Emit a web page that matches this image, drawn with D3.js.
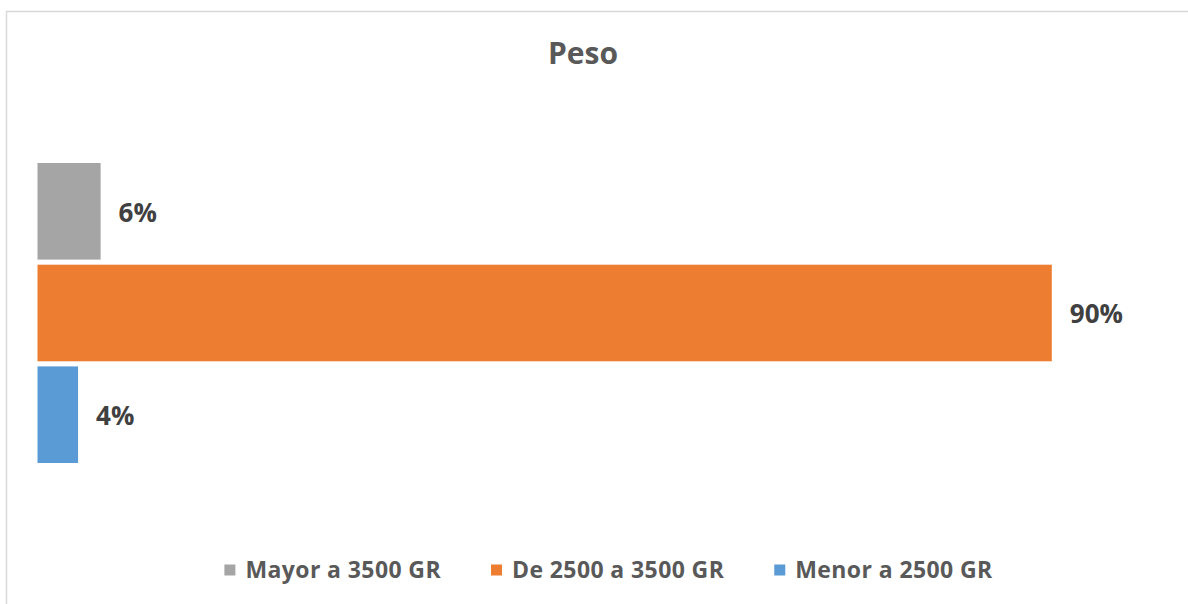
<!DOCTYPE html>
<html>
<meta charset="utf-8">
<script src="https://cdn.jsdelivr.net/npm/d3@7/dist/d3.min.js"></script>
<style>
body{
  margin: 0;
  background: white;
  overflow: hidden;
}
.chartFrame{
  fill: white;
  stroke: #d9d9d9;
  stroke-width: 1.5;
}
.title{
  font: bold 30px "Open Sans", sans-serif;
  fill: #595959;
}
.valLabel{
  font: bold 26px "Open Sans", sans-serif;
  fill: #404040;
}
.legendText{
  font: bold 23px "Open Sans", sans-serif;
  letter-spacing: 0.4px;
  fill: #595959;
}
</style>
<body>
  <div id="chartDiv"></div>

<script>
// one category, three series (share of births by weight)
var chartTitle = "Peso";
var seriesNames = ["Mayor a 3500 GR", "De 2500 a 3500 GR", "Menor a 2500 GR"];
var seriesValues = [0.056, 0.90, 0.036];
var seriesColors = ["#a5a5a5", "#ed7d31", "#5b9bd5"];

var width = 1188,
    height = 604;

var svg = d3.select("#chartDiv").append("svg")
  .attr("width", width)
  .attr("height", height);

// chart area outline (right/bottom edges fall outside the picture)
svg.append("rect").attr("class", "chartFrame")
  .attr("x", 6.5).attr("y", 11.5)
  .attr("width", 1200).attr("height", 620);

svg.append("text").attr("class", "title")
  .attr("x", 583).attr("y", 64)
  .attr("text-anchor", "middle")
  .text(chartTitle);

var x = d3.scaleLinear().domain([0, 1]).range([37.5, 1164.5]);
var y = d3.scaleBand().domain(seriesNames).range([163, 463]).paddingInner(0.05);

var fmt = d3.format(".0%");

var bars = svg.append("g").selectAll(".bar")
  .data(seriesNames)
  .enter().append("g").attr("class", "bar");

bars.append("rect")
  .attr("x", x(0))
  .attr("y", function(d){ return y(d); })
  .attr("width", function(d, i){ return x(seriesValues[i]) - x(0); })
  .attr("height", y.bandwidth())
  .style("fill", function(d, i){ return seriesColors[i]; });

bars.append("text").attr("class", "valLabel")
  .attr("x", function(d, i){ return x(seriesValues[i]) + 18; })
  .attr("y", function(d){ return y(d) + y.bandwidth() / 2 + 1; })
  .attr("dy", "0.36em")
  .text(function(d, i){ return fmt(seriesValues[i]); });

// legend along the bottom, centred
var legend = svg.append("g").attr("class", "legend");
var markSize = 11, markGap = 10, itemGap = 50;
var items = legend.selectAll(".legendItem")
  .data(seriesNames)
  .enter().append("g").attr("class", "legendItem");

items.append("rect")
  .attr("y", -markSize / 2)
  .attr("width", markSize).attr("height", markSize)
  .style("fill", function(d, i){ return seriesColors[i]; });

items.append("text").attr("class", "legendText")
  .attr("x", markSize + markGap)
  .attr("dy", "0.36em")
  .text(function(d){ return d; });

var offsets = [], pos = 0;
items.each(function(){
  offsets.push(pos);
  pos += markSize + markGap + d3.select(this).select("text").node().getComputedTextLength() + itemGap;
});
var totalW = pos - itemGap;
items.attr("transform", function(d, i){ return "translate(" + offsets[i] + ",0)"; });
legend.attr("transform", "translate(" + (608.5 - totalW / 2) + ",570)");
</script>
</body>
</html>
